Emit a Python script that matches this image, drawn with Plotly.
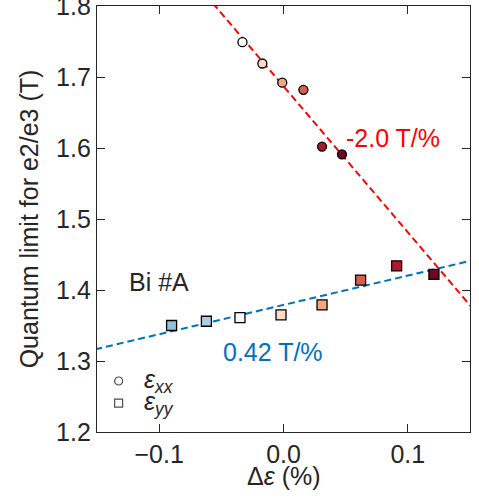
import plotly.graph_objects as go

# Data
circ_x = [-0.033, -0.017, -0.001, 0.016, 0.031, 0.047]
circ_y = [1.749, 1.719, 1.692, 1.682, 1.602, 1.591]
circ_colors = ["#ffffff", "#fbd7c4", "#f3a481", "#d6604d", "#a51d2d", "#6b0a22"]

sq_x = [-0.090, -0.062, -0.035, -0.002, 0.031, 0.062, 0.091, 0.121]
sq_y = [1.350, 1.356, 1.361, 1.365, 1.379, 1.414, 1.434, 1.422]
sq_colors = ["#8fc3dd", "#a8cfe5", "#f8f8f8", "#fddbc7", "#f4a582", "#d6604d", "#b2182b", "#6b0a22"]

red_slope, red_icpt = -2.057, 1.687
blue_slope, blue_icpt = 0.413, 1.379
fit_x = [-0.16, 0.16]

x_ticks = [-0.1, 0.0, 0.1]
x_ticklabels = ["\u22120.1", "0.0", "0.1"]
y_ticks = [1.2, 1.3, 1.4, 1.5, 1.6, 1.7, 1.8]
y_ticklabels = ["1.2", "1.3", "1.4", "1.5", "1.6", "1.7", "1.8"]

FONT = "Liberation Sans, Arial, Helvetica, sans-serif"
AX = "#262626"
FS = 25

fig = go.Figure()

fig.add_trace(go.Scatter(x=fit_x, y=[red_icpt + red_slope * x for x in fit_x],
                         mode="lines", line=dict(color="#ff0000", width=2, dash="7px,4px"),
                         hoverinfo="skip", showlegend=False))
fig.add_trace(go.Scatter(x=fit_x, y=[blue_icpt + blue_slope * x for x in fit_x],
                         mode="lines", line=dict(color="#0072bd", width=2, dash="7px,4px"),
                         hoverinfo="skip", showlegend=False))

fig.add_trace(go.Scatter(x=circ_x, y=circ_y, mode="markers",
                         marker=dict(symbol="circle", size=9, color=circ_colors,
                                     line=dict(color="#000000", width=1.3)),
                         showlegend=False))
fig.add_trace(go.Scatter(x=sq_x, y=sq_y, mode="markers",
                         marker=dict(symbol="square", size=10, color=sq_colors,
                                     line=dict(color="#000000", width=1.3)),
                         showlegend=False))

# Legend-like markers
leg_x = [-0.1326, -0.1326]
leg_y = [1.2718, 1.2408]
fig.add_trace(go.Scatter(x=leg_x, y=leg_y, mode="markers",
                         marker=dict(symbol=["circle-open", "square-open"], size=[8, 8],
                                     color="#000000", line=dict(width=1.2)),
                         showlegend=False, hoverinfo="skip"))

fig.add_annotation(x=-0.114, y=leg_y[0], xanchor="left", yanchor="middle", showarrow=False,
                   text="<i>ε</i><sub><i>xx</i></sub>", font=dict(family=FONT, size=FS, color=AX))
fig.add_annotation(x=-0.114, y=leg_y[1], xanchor="left", yanchor="middle", showarrow=False,
                   text="<i>ε</i><sub><i>yy</i></sub>", font=dict(family=FONT, size=FS, color=AX))

fig.add_annotation(x=-0.1, y=1.411, xanchor="center", yanchor="middle", showarrow=False,
                   text="Bi #A", font=dict(family=FONT, size=FS, color=AX))
fig.add_annotation(x=0.0485, y=1.614, xanchor="left", yanchor="middle", showarrow=False,
                   text="-2.0 T/%", font=dict(family=FONT, size=FS, color="#ff0000"))
fig.add_annotation(x=-0.0505, y=1.3127, xanchor="left", yanchor="middle", showarrow=False,
                   text="0.42 T/%", font=dict(family=FONT, size=FS, color="#0072bd"))

# x-axis title as annotation for precise placement
fig.add_annotation(x=0.0, y=-0.104, xref="x", yref="paper", xanchor="center", yanchor="middle",
                   showarrow=False, text="Δ<i>ε</i> (%)", font=dict(family=FONT, size=FS, color=AX))

axis_common = dict(showline=True, linecolor=AX, linewidth=1.3, mirror="ticks",
                   ticks="inside", ticklen=8, tickwidth=1.3, tickcolor=AX,
                   showgrid=False, zeroline=False, ticklabeloverflow="allow",
                   automargin=False,
                   tickfont=dict(family=FONT, size=FS, color=AX))

fig.update_xaxes(range=[-0.15, 0.15], tickvals=x_ticks, ticktext=x_ticklabels, **axis_common)
fig.update_yaxes(range=[1.2, 1.8], tickvals=y_ticks, ticktext=y_ticklabels,
                 title=dict(text="Quantum limit for e2/e3 (T)", font=dict(family=FONT, size=FS, color=AX), standoff=10),
                 **axis_common)

fig.update_layout(width=479, height=498, margin=dict(l=97, r=9, t=6, b=66, autoexpand=False),
                  paper_bgcolor="white", plot_bgcolor="white", showlegend=False)

fig.write_html("out.html")
